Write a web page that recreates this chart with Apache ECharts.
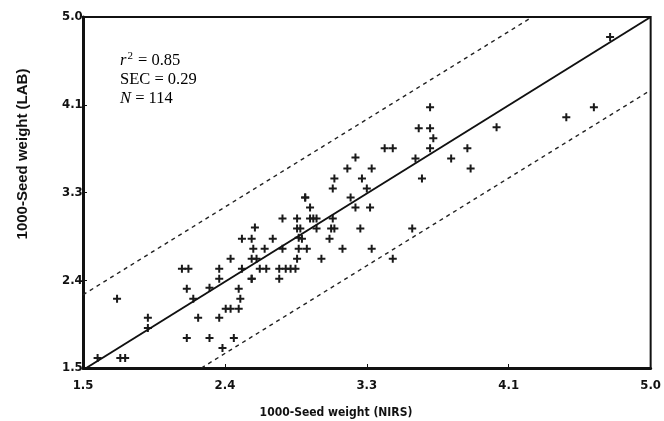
<!DOCTYPE html>
<html>
<head>
<meta charset="utf-8">
<script src="https://cdn.jsdelivr.net/npm/echarts@6/dist/echarts.min.js"></script>
<style>html,body{margin:0;padding:0;background:#fff;}#c{width:664px;height:421px;}</style>
</head>
<body>
<div id="c"></div>
<script>
// Tick positions and labels (axis 1.5–5.0 split in four equal steps)
const tickValues = [1.5, 2.375, 3.25, 4.125, 5.0];
const tickLabels = ['1.5', '2.4', '3.3', '4.1', '5.0'];

// NIRS (x) vs LAB (y) 1000-seed weight
const nirs = [1.59,1.71,1.73,1.76,1.90,1.90,2.11,2.15,2.14,2.14,2.18,2.21,2.28,2.28,2.34,2.34,2.34,2.36,2.38,2.41,
  2.46,2.47,2.46,2.43,2.41,2.48,2.54,2.54,2.48,2.54,2.56,2.55,2.54,2.57,2.59,2.63,2.62,2.67,2.73,2.73,
  2.71,2.71,2.75,2.78,2.81,3.18,3.13,3.28,3.05,3.22,3.04,3.25,2.87,2.87,3.15,2.90,3.18,3.27,2.82,2.90,
  2.92,2.94,3.04,2.82,2.84,2.94,3.03,3.05,3.21,3.53,2.83,2.85,3.02,2.83,2.88,3.10,3.28,2.82,2.97,3.41,
  3.64,3.57,3.64,3.66,3.36,3.41,3.64,3.55,3.77,3.87,4.05,3.89,3.59,4.48,4.75,4.65];
const lab = [1.60,2.19,1.60,1.60,2.00,1.90,2.49,2.49,2.29,1.80,2.19,2.00,1.80,2.30,2.49,2.39,2.00,1.70,2.09,2.09,
  2.09,2.19,2.29,1.80,2.59,2.49,2.39,2.39,2.79,2.79,2.90,2.69,2.59,2.59,2.49,2.49,2.69,2.79,2.69,2.99,
  2.39,2.49,2.49,2.49,2.49,3.60,3.49,3.49,3.39,3.39,3.29,3.29,3.20,3.20,3.20,3.10,3.10,3.10,2.99,2.99,
  2.99,2.99,2.99,2.89,2.89,2.89,2.89,2.89,2.89,2.89,2.80,2.79,2.79,2.69,2.69,2.69,2.69,2.59,2.59,2.59,
  4.10,3.89,3.89,3.79,3.69,3.69,3.69,3.59,3.59,3.69,3.90,3.49,3.39,4.00,4.80,4.10];

// Fitted line and ±2.5·SEC limits
const fitX = [1.52, 5.0];
const fitY = [1.50, 5.0];
const upperX = [1.5, 4.27];
const upperY = [2.23, 5.0];
const lowerX = [2.23, 5.0];
const lowerY = [1.5, 4.27];

const statLines = ['{i|r}{sup|2}{n| = 0.85}', '{n|SEC = 0.29}', '{i|N}{n| = 114}'];

const zip = (a, b) => a.map((v, i) => [v, b[i]]);
const fmt = v => { const i = tickValues.findIndex(t => Math.abs(t - v) < 1e-9); return i >= 0 ? tickLabels[i] : ''; };
const tickFont = {fontFamily: '"Liberation Sans Narrow","DejaVu Sans Condensed","Liberation Sans",sans-serif', fontWeight: 'bold', fontSize: 13, color: '#111'};
const plus = 'path://M3,0H5V3H8V5H5V8H3V5H0V3H3Z';
const serif = '"Liberation Serif","DejaVu Serif",serif';

const chart = echarts.init(document.getElementById('c'), null, {renderer: 'canvas'});
chart.setOption({
  animation: false,
  backgroundColor: '#fff',
  grid: {left: 83, right: 11, top: 17, bottom: 53, show: true, borderColor: '#111', borderWidth: 2, backgroundColor: 'transparent'},
  xAxis: {
    type: 'value', min: 1.5, max: 5.0,
    axisLine: {show: true, onZero: false, lineStyle: {color: '#111', width: 3}},
    axisTick: {show: true, inside: true, length: 4, customValues: tickValues, lineStyle: {color: '#111', width: 1}},
    axisLabel: Object.assign({customValues: tickValues, formatter: fmt, margin: 11}, tickFont),
    splitLine: {show: false}
  },
  yAxis: {
    type: 'value', min: 1.5, max: 5.0,
    axisLine: {show: true, onZero: false, lineStyle: {color: '#111', width: 3}},
    axisTick: {show: true, inside: true, length: 4, customValues: tickValues, lineStyle: {color: '#111', width: 1}},
    axisLabel: Object.assign({customValues: tickValues, formatter: fmt, margin: 21, align: 'left'}, tickFont),
    splitLine: {show: false}
  },
  series: [
    {type: 'line', data: zip(fitX, fitY), symbol: 'none', lineStyle: {color: '#111', width: 2}, silent: true},
    {type: 'line', data: zip(upperX, upperY), symbol: 'none', lineStyle: {color: '#222', width: 1.4, type: [4, 4]}, silent: true},
    {type: 'line', data: zip(lowerX, lowerY), symbol: 'none', lineStyle: {color: '#222', width: 1.4, type: [4, 4]}, silent: true},
    {type: 'scatter', data: zip(nirs, lab), symbol: plus, symbolSize: 8, itemStyle: {color: '#1a1a1a', opacity: 1}}
  ],
  graphic: [
    {type: 'text', left: 120, top: 51, style: {
      text: statLines.join('\n'),
      rich: {
        n: {fontFamily: serif, fontSize: 16.5, color: '#111', lineHeight: 19},
        i: {fontFamily: serif, fontStyle: 'italic', fontSize: 16.5, color: '#111', lineHeight: 19},
        sup: {fontFamily: serif, fontSize: 11, color: '#111', verticalAlign: 'top', lineHeight: 19, padding: [0, 1, 6, 1]}
      }
    }},
    {type: 'text', x: 336, y: 413, style: {
      text: '1000-Seed weight (NIRS)', align: 'center', verticalAlign: 'middle',
      font: 'bold 12px "Liberation Sans Narrow","DejaVu Sans Condensed",sans-serif', fill: '#111'
    }},
    {type: 'text', x: 23, y: 154, rotation: Math.PI / 2, style: {
      text: '1000-Seed weight (LAB)', align: 'center', verticalAlign: 'middle',
      font: 'bold 15px "Liberation Sans",Arial,sans-serif', fill: '#111'
    }}
  ]
});
</script>
</body>
</html>
